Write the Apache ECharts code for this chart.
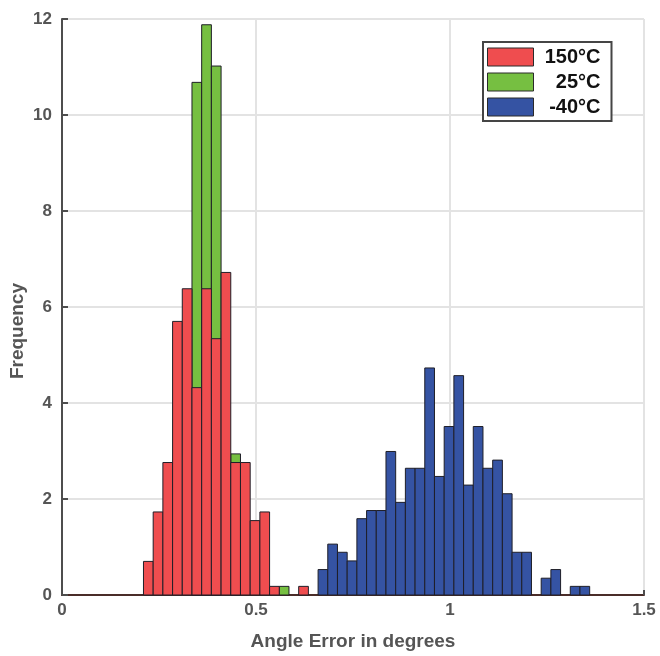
<!DOCTYPE html>
<html>
<head>
<meta charset="utf-8">
<script src="https://cdn.jsdelivr.net/npm/echarts@6/dist/echarts.min.js"></script>
<style>
  html, body { margin: 0; padding: 0; background: #fff; }
  #chart { width: 660px; height: 656px; }
</style>
</head>
<body>
<div id="chart"></div>
<script>
// Histogram bins: left edges, shared by all three temperatures
const binWidth = 0.025;
const binEdges = [0.21, 0.235, 0.26, 0.285, 0.31, 0.335, 0.36, 0.385, 0.41, 0.435,
  0.46, 0.485, 0.51, 0.535, 0.56, 0.585, 0.61, 0.635, 0.66, 0.685,
  0.71, 0.735, 0.76, 0.785, 0.81, 0.835, 0.86, 0.885, 0.91, 0.935,
  0.96, 0.985, 1.01, 1.035, 1.06, 1.085, 1.11, 1.135, 1.16, 1.185,
  1.21, 1.235, 1.26, 1.285, 1.31, 1.335];

// Frequency per bin (null = empty bin)
const freq150 = [0.70, 1.73, 2.76, 5.70, 6.38, 4.32, 6.38, 5.34, 6.72, 2.76,
  2.76, 1.55, 1.73, 0.18, null, null, 0.18];
const freq25 = [null, null, null, null, null, 10.68, 11.88, 11.02, null, 2.94,
  null, null, null, null, 0.18];
const freqMinus40 = [null, null, null, null, null, null, null, null, null, null,
  null, null, null, null, null, null, null, null, 0.53, 1.06,
  0.89, 0.71, 1.59, 1.76, 1.76, 2.99, 1.93, 2.64, 2.64, 4.73,
  2.47, 3.51, 4.57, 2.29, 3.51, 2.64, 2.81, 2.11, 0.89, 0.89,
  null, 0.35, 0.53, null, 0.18, 0.18];

const seriesNames = ['150°C', '25°C', '-40°C'];
const seriesColors = ['#ef4d4f', '#76bf41', '#3553a3'];
const xTicks = [0, 0.5, 1, 1.5];
const yTicks = [0, 2, 4, 6, 8, 10, 12];

function toBars(freq) {
  const out = [];
  freq.forEach((h, i) => {
    if (h != null && h > 0) out.push([binEdges[i], binEdges[i] + binWidth, h]);
  });
  return out;
}

function renderBar(params, api) {
  const lo = api.coord([api.value(0), api.value(2)]);
  const hi = api.coord([api.value(1), 0]);
  return {
    type: 'rect',
    shape: { x: lo[0], y: lo[1], width: hi[0] - lo[0], height: hi[1] - lo[1] },
    style: { fill: api.visual('color'), stroke: '#1f1f28', lineWidth: 1 }
  };
}

const font = '"Liberation Sans", Arial, Helvetica, sans-serif';
const chart = echarts.init(document.getElementById('chart'), null, { renderer: 'canvas' });

// 25°C sits underneath, 150°C is drawn over it
const zLevel = [3, 2, 4];
const freqs = [freq150, freq25, freqMinus40];

chart.setOption({
  animation: false,
  backgroundColor: '#ffffff',
  grid: { left: 62, right: 16, top: 19, bottom: 61, containLabel: false },
  xAxis: {
    type: 'value',
    min: xTicks[0], max: xTicks[xTicks.length - 1], interval: 0.5,
    name: 'Angle Error in degrees',
    nameLocation: 'middle', nameGap: 37,
    nameTextStyle: { fontFamily: font, fontWeight: 'bold', fontSize: 19, color: '#555' },
    axisLine: { lineStyle: { color: '#4a2d29', width: 2 } },
    axisTick: { inside: true, length: 5, lineStyle: { color: '#4d4d4d', width: 2 } },
    axisLabel: { fontFamily: font, fontWeight: 'bold', fontSize: 17, color: '#555', margin: 7,
      formatter: v => String(v) },
    splitLine: { show: true, lineStyle: { color: '#e3e3e3', width: 2 } }
  },
  yAxis: {
    type: 'value',
    min: yTicks[0], max: yTicks[yTicks.length - 1], interval: 2,
    axisLine: { show: true, lineStyle: { color: '#4d4d4d', width: 2 } },
    axisTick: { show: true, inside: true, length: 6, lineStyle: { color: '#4d4d4d', width: 2 } },
    axisLabel: { fontFamily: font, fontWeight: 'bold', fontSize: 17, color: '#555', margin: 10 },
    splitLine: { show: true, lineStyle: { color: '#e3e3e3', width: 2 } }
  },
  legend: {
    orient: 'vertical',
    left: 483, top: 42,
    padding: [5, 11, 4, 4],
    itemWidth: 46, itemHeight: 18, itemGap: 5,
    backgroundColor: '#fff',
    borderColor: '#454545', borderWidth: 2, borderRadius: 0,
    icon: 'rect',
    itemStyle: { borderColor: '#2a2a2a', borderWidth: 1 },
    data: seriesNames,
    formatter: name => '{n|' + name + '}',
    textStyle: {
      rich: { n: { width: 62, lineHeight: 18, align: 'right', fontFamily: font, fontWeight: 'bold', fontSize: 20, color: '#111' } }
    }
  },
  graphic: [{
    type: 'text',
    left: 8, top: 283,
    rotation: Math.PI / 2,
    style: { text: 'Frequency', fontFamily: font, fontWeight: 'bold', fontSize: 19, fill: '#555' }
  }],
  series: seriesNames.map((name, k) => ({
    name: name,
    type: 'custom',
    renderItem: renderBar,
    itemStyle: { color: seriesColors[k] },
    encode: { x: [0, 1], y: 2 },
    data: toBars(freqs[k]),
    z: zLevel[k]
  }))
});
</script>
</body>
</html>
